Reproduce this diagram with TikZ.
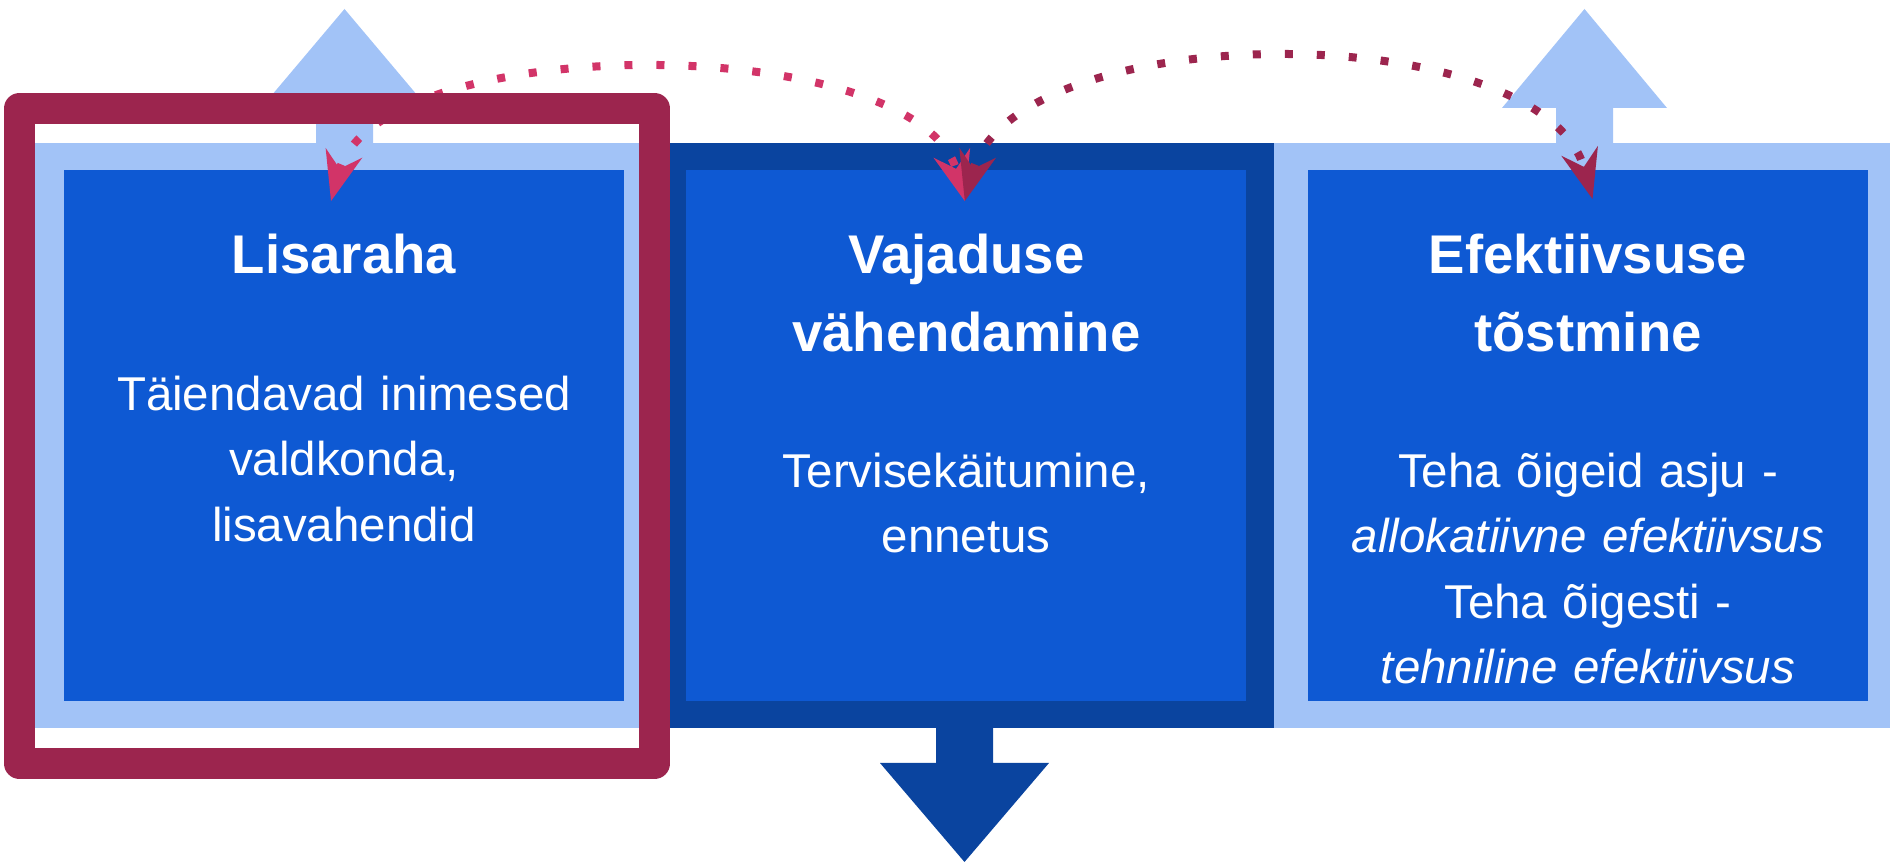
\documentclass[tikz,border=0pt]{standalone}
\usepackage{fontspec}
\setmainfont{Liberation Sans}
\usetikzlibrary{positioning,arrows.meta,calc}
\definecolor{boxblue}{HTML}{0E59D3}
\definecolor{panelblue}{HTML}{0A449F}
\definecolor{paleblue}{HTML}{A2C3F7}
\definecolor{framered}{HTML}{9C254E}
\definecolor{linkpink}{HTML}{D23468}
\tikzset{>={Stealth[length=14pt,width=10.5pt,inset=4.5pt]}}

\begin{document}
\begin{tikzpicture}[x=0.01cm, y=0.01cm,
    box/.style={fill=boxblue, minimum width=5.6cm, minimum height=5.31cm, inner sep=0pt},
    headtext/.style={text=white, text width=5.6cm, align=center, inner sep=0pt, font=\bfseries\fontsize{15.5}{22.2}\selectfont},
    bodytext/.style={text=white, text width=5.6cm, align=center, inner sep=0pt, font=\fontsize{13.5}{18.6}\selectfont},
    link/.style={line width=0.08cm, dash pattern=on 0.08cm off 0.24cm, <->}]
        \useasboundingbox (0,0) rectangle (1890,-862);
        % bands behind the boxes
        \fill[paleblue] (30,-143) rectangle (657,-728);
        \fill[panelblue] (657,-143) rectangle (1274,-728);
        \fill[paleblue] (1274,-143) rectangle (1890,-728);
        % big arrows
        \fill[paleblue] (316,-143) -- (316,-108) -- (261,-108) -- (344.5,-9) -- (428,-108) -- (373,-108) -- (373,-143) -- cycle;
        \fill[paleblue] (1556,-143) -- (1556,-108) -- (1502,-108) -- (1584.5,-9) -- (1667,-108) -- (1613,-108) -- (1613,-143) -- cycle;
        \fill[panelblue] (936,-728) -- (936,-763) -- (880,-763) -- (964.5,-862) -- (1049,-763) -- (993,-763) -- (993,-728) -- cycle;

        \node[box] (lisa) at (344,-435.5) {};
        \node[box, right=0.605cm of lisa] (vaj) {};
        \node[box, right=0.6cm of vaj] (efek) {};

        \coordinate (lisaIn) at ($(lisa.north)+(-13,-32)$);
        \coordinate (vajIn) at ($(vaj.north)+(-1.5,-32)$);
        \coordinate (efekIn) at ($(efek.north)+(4.5,-30)$);
        \draw[link, linkpink] (lisaIn) to[out=75, in=105, looseness=0.72] (vajIn);
        \draw[link, framered] (vajIn) to[out=75, in=105, looseness=0.78] (efekIn);

        % highlight round the first box
        \draw[framered, line width=0.31cm, line join=round] (19.5,-108.5) rectangle (654.5,-763.5);

        \node[headtext, below=1.04cm of lisa.north, anchor=base] (lisaHead) {Lisaraha};
        \node[headtext, below=1.04cm of vaj.north, anchor=base] (vajHead) {Vajaduse\\vähendamine};
        \node[headtext, below=1.04cm of efek.north, anchor=base] (efekHead) {Efektiivsuse\\tõstmine};
        \node[bodytext, below=2.41cm of lisa.north, anchor=base] (lisaBody) {Täiendavad inimesed\\valdkonda,\\lisavahendid};
        \node[bodytext, below=3.18cm of vaj.north, anchor=base] (vajBody) {Tervisekäitumine,\\ennetus};
        \node[bodytext, below=3.18cm of efek.north, anchor=base] (efekBody) {Teha õigeid asju -\\\textit{allokatiivne efektiivsus}\\Teha õigesti -\\\textit{tehniline efektiivsus}};
      \end{tikzpicture}
\end{document}
